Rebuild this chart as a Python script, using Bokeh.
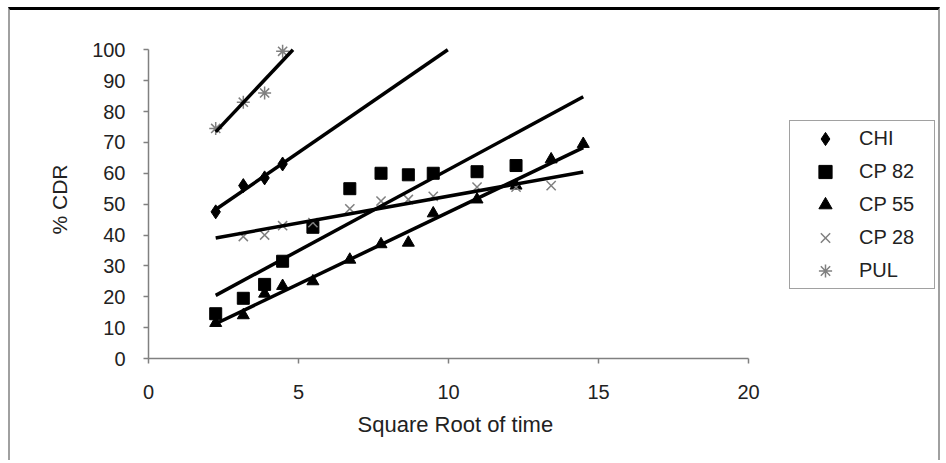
import numpy as np
from bokeh.plotting import figure
from bokeh.models import Legend, LegendItem, Range1d, FixedTicker, Title
from bokeh.embed import file_html
from bokeh.resources import INLINE

# ---- data ----
x_all = [2.24, 3.16, 3.87, 4.47, 5.48, 6.71, 7.75, 8.66, 9.49, 10.95, 12.25, 13.42, 14.49]

chi_x = x_all[:4]
chi_y = [47.5, 56.0, 58.5, 63.0]

cp82_x = x_all[:11]
cp82_y = [14.5, 19.5, 24.0, 31.5, 42.5, 55.0, 60.0, 59.5, 60.0, 60.5, 62.5]

cp55_x = x_all[:13]
cp55_y = [11.5, 14.0, 21.0, 23.5, 25.0, 32.0, 37.0, 37.5, 47.0, 51.5, 56.0, 64.5, 69.5]

cp28_x = x_all[1:12]
cp28_y = [39.5, 40.0, 43.0, 44.0, 48.5, 51.0, 51.5, 52.5, 55.5, 55.5, 56.0]

pul_x = x_all[:4]
pul_y = [74.5, 83.0, 86.0, 99.5]

x_ticks = [0, 5, 10, 15, 20]
y_ticks = [0, 10, 20, 30, 40, 50, 60, 70, 80, 90, 100]

FONT = "Liberation Sans"

p = figure(width=932, height=453, output_backend="svg", toolbar_location=None,
           x_range=Range1d(0, 26.33), y_range=Range1d(0, 103),
           min_border_left=138, min_border_right=4,
           min_border_top=30, min_border_bottom=105)
p.styles = {"margin-left": "8px", "margin-top": "7px",
            "border-top": "3px solid black",
            "border-left": "2px solid #a0a0a0",
            "border-right": "2px solid #a0a0a0"}
p.background_fill_color = "white"
p.border_fill_color = "white"
p.outline_line_color = None
p.xgrid.visible = False
p.ygrid.visible = False

for ax in (p.xaxis[0], p.yaxis[0]):
    ax.axis_line_color = "#808080"
    ax.axis_line_width = 1.5
    ax.major_tick_line_color = "#808080"
    ax.major_tick_line_width = 1.5
    ax.major_tick_in = 0
    ax.major_tick_out = 5
    ax.minor_tick_line_color = None
    ax.major_label_text_font = FONT
    ax.major_label_text_font_size = "20px"
    ax.major_label_text_color = "#222222"
    ax.axis_label_text_font = FONT
    ax.axis_label_text_font_size = "21px"
    ax.axis_label_text_font_style = "normal"
    ax.axis_label_text_color = "#222222"

p.xaxis.ticker = FixedTicker(ticks=x_ticks)
p.yaxis.ticker = FixedTicker(ticks=y_ticks)
p.xaxis.bounds = (0, 20)
p.yaxis.bounds = (0, 100)
p.yaxis.axis_label = "% CDR"
p.xaxis.major_label_standoff = 21
p.yaxis.major_label_standoff = 18
p.yaxis.axis_label_standoff = 18

# x-axis title, centred under the 0-20 axis span
xt = Title(text="Square Root of time", align="left", offset=209,
           text_font=FONT, text_font_size="22px", text_font_style="normal",
           text_color="#222222", standoff=17)
p.add_layout(xt, "below")

x_lo, x_hi = min(x_all), max(x_all)

def trend(xs, ys):
    m, b = np.polyfit(xs, ys, 1)
    x_end = x_hi
    if m * x_end + b > 100:
        x_end = (100 - b) / m
    xx = [x_lo, x_end]
    yy = [m * v + b for v in xx]
    p.line(xx, yy, line_color="black", line_width=3.5)

series = [
    ("CHI", chi_x, chi_y, "diamond", "black", "black", 14, 1),
    ("CP 82", cp82_x, cp82_y, "square", "black", "black", 12, 1),
    ("CP 55", cp55_x, cp55_y, "triangle", "black", "black", 12, 1),
    ("CP 28", cp28_x, cp28_y, "x", "#808080", None, 13, 1.5),
    ("PUL", pul_x, pul_y, "asterisk", "#808080", None, 13, 1.5),
]

items = []
for name, xs, ys, marker, lc, fc, size, lw in series:
    r = p.scatter(xs, ys, marker=marker, size=size, line_color=lc,
                  fill_color=fc, line_width=lw)
    items.append(LegendItem(label=name, renderers=[r]))

for name, xs, ys, *_ in series:
    trend(xs, ys)

legend = Legend(items=items, location=(641, 69), orientation="vertical",
                label_text_font=FONT, label_text_font_size="20px",
                label_text_color="#222222",
                glyph_width=68, glyph_height=33, label_height=33,
                label_width=74, label_standoff=0, spacing=0,
                padding=1, margin=0,
                border_line_color="#444444", border_line_width=1.5,
                background_fill_color="white", background_fill_alpha=1)
p.add_layout(legend, "center")

open("out.html", "w").write(file_html(p, INLINE))
